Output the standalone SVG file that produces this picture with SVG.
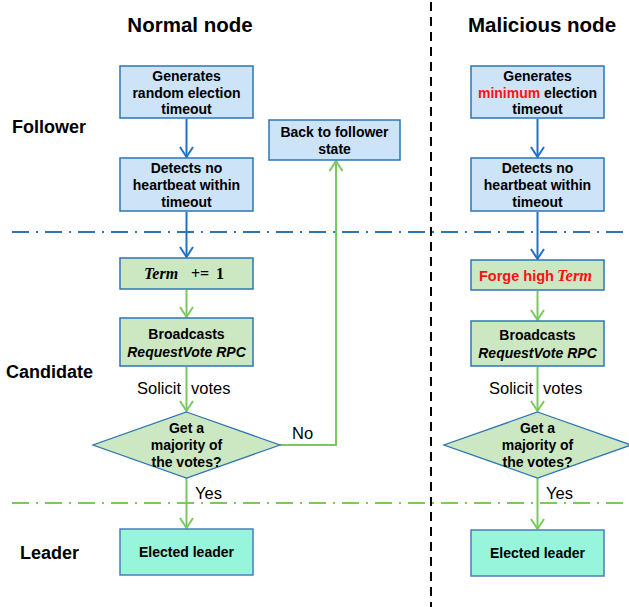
<svg xmlns="http://www.w3.org/2000/svg" width="629" height="607" viewBox="0 0 629 607">
<style>
text{font-family:"Liberation Sans",Arial,sans-serif;fill:#000}
.title{font-size:20.5px;font-weight:bold;text-anchor:middle}
.side{font-size:18px;font-weight:bold}
.bt{font-size:14px;font-weight:bold;text-anchor:middle}
.lbl{font-size:16.5px}
.blue{fill:#CCE3F8;stroke:#2E75B6;stroke-width:1.5}
.green{fill:#CCE8C3;stroke:#2E75B6;stroke-width:1.5}
.leader{fill:#97F5DB;stroke:#4A7EBB;stroke-width:1.5}
.ab{stroke:#1E73C8;stroke-width:2;fill:none}
.ag{stroke:#7BC95E;stroke-width:2;fill:none}
.math{font-family:"Liberation Serif","Times New Roman",serif;font-style:italic;font-weight:bold}
.mr{font-family:"Liberation Serif","Times New Roman",serif;font-weight:bold}
</style>
<defs>
<marker id="mb" markerUnits="userSpaceOnUse" markerWidth="16" markerHeight="16" refX="12" refY="8" orient="auto" viewBox="0 0 16 16">
<path d="M2,1.5 L12,8 L2,14.5" fill="none" stroke="#1E73C8" stroke-width="2"/>
</marker>
<marker id="mg" markerUnits="userSpaceOnUse" markerWidth="16" markerHeight="16" refX="12" refY="8" orient="auto" viewBox="0 0 16 16">
<path d="M2,1.5 L12,8 L2,14.5" fill="none" stroke="#7BC95E" stroke-width="2"/>
</marker>
</defs>
<rect width="629" height="607" fill="#fff"/>

<g id="separators">
<line x1="431" y1="2" x2="431" y2="607" stroke="#000" stroke-width="2" stroke-dasharray="9 6"/>
<line x1="12" y1="232" x2="629" y2="232" stroke="#2E75B6" stroke-width="2" stroke-dasharray="17 7 2 7"/>
<line x1="12" y1="503" x2="629" y2="503" stroke="#7BC95E" stroke-width="2" stroke-dasharray="17 7 2 7"/>
</g>

<g id="labels">
<text class="title" x="190" y="32">Normal node</text>
<text class="title" x="542" y="32">Malicious node</text>
<text class="side" x="12" y="133">Follower</text>
<text class="side" x="6" y="378">Candidate</text>
<text class="side" x="20" y="559">Leader</text>
</g>

<g id="connectors">
<line class="ab" x1="186.5" y1="119" x2="186.5" y2="157" marker-end="url(#mb)"/>
<line class="ab" x1="186.5" y1="212" x2="186.5" y2="257" marker-end="url(#mb)"/>
<line class="ag" x1="186.5" y1="290" x2="186.5" y2="317" marker-end="url(#mg)"/>
<line class="ag" x1="186.5" y1="367" x2="186.5" y2="411" marker-end="url(#mg)"/>
<line class="ag" x1="186.5" y1="478" x2="186.5" y2="528" marker-end="url(#mg)"/>
<polyline class="ag" points="280,445 336,445 336,161" marker-end="url(#mg)"/>
<line class="ab" x1="537.5" y1="119" x2="537.5" y2="157" marker-end="url(#mb)"/>
<line class="ab" x1="537.5" y1="212" x2="537.5" y2="259" marker-end="url(#mb)"/>
<line class="ag" x1="537.5" y1="291" x2="537.5" y2="320" marker-end="url(#mg)"/>
<line class="ag" x1="537.5" y1="367" x2="537.5" y2="411" marker-end="url(#mg)"/>
<line class="ag" x1="537.5" y1="478" x2="537.5" y2="529" marker-end="url(#mg)"/>
<text class="lbl" x="181" y="394" text-anchor="end">Solicit</text>
<text class="lbl" x="191" y="394">votes</text>
<text class="lbl" x="195" y="499">Yes</text>
<text class="lbl" x="292" y="439">No</text>
<text class="lbl" x="533" y="394" text-anchor="end">Solicit</text>
<text class="lbl" x="543" y="394">votes</text>
<text class="lbl" x="546" y="499">Yes</text>
</g>

<g id="n-gen">
<rect class="blue" x="120" y="66" width="133" height="52"/>
<text class="bt" x="186.5" y="81">Generates</text>
<text class="bt" x="186.5" y="98">random  election</text>
<text class="bt" x="186.5" y="114">timeout</text>
</g>
<g id="n-detect">
<rect class="blue" x="120" y="158" width="133" height="53"/>
<text class="bt" x="186.5" y="173">Detects no</text>
<text class="bt" x="186.5" y="190">heartbeat within</text>
<text class="bt" x="186.5" y="207">timeout</text>
</g>
<g id="n-back">
<rect class="blue" x="269" y="120" width="131" height="40"/>
<text class="bt" x="334.5" y="137">Back to follower</text>
<text class="bt" x="334.5" y="154">state</text>
</g>
<g id="n-term">
<rect class="green" x="120" y="258" width="133" height="31"/>
<text class="math" x="144" y="279" font-size="16">Term</text>
<text class="mr" x="191" y="279" font-size="16">+=</text>
<text class="mr" x="216" y="279" font-size="16">1</text>
</g>
<g id="n-broadcast">
<rect class="green" x="120" y="318" width="133" height="48"/>
<text class="bt" x="186.5" y="339">Broadcasts</text>
<text class="bt" x="186.5" y="357" font-style="italic">RequestVote RPC</text>
</g>
<g id="n-majority">
<polygon points="186.5,412 280,445 186.5,478 93,445" fill="#CCE8C3" stroke="#2E75B6" stroke-width="1.3"/>
<text class="bt" x="186.5" y="433">Get a</text>
<text class="bt" x="186.5" y="450">majority of</text>
<text class="bt" x="186.5" y="467">the votes?</text>
</g>
<g id="n-leader">
<rect class="leader" x="120" y="529" width="133" height="46"/>
<text class="bt" x="186.5" y="557">Elected leader</text>
</g>

<g id="m-gen">
<rect class="blue" x="471" y="66" width="133" height="52"/>
<text class="bt" x="537.5" y="81">Generates</text>
<text class="bt" x="537.5" y="98"><tspan fill="#FF1010">minimum</tspan> election</text>
<text class="bt" x="537.5" y="114">timeout</text>
</g>
<g id="m-detect">
<rect class="blue" x="471" y="158" width="133" height="53"/>
<text class="bt" x="537.5" y="173">Detects no</text>
<text class="bt" x="537.5" y="190">heartbeat within</text>
<text class="bt" x="537.5" y="207">timeout</text>
</g>
<g id="m-forge">
<rect class="green" x="471" y="260" width="133" height="30"/>
<text x="479" y="281" font-size="14.5" font-weight="bold" style="fill:#FF1010">Forge high</text>
<text class="math" x="557" y="281" font-size="16.5" style="fill:#FF1010">Term</text>
</g>
<g id="m-broadcast">
<rect class="green" x="471" y="321" width="133" height="45"/>
<text class="bt" x="537.5" y="340">Broadcasts</text>
<text class="bt" x="537.5" y="358" font-style="italic">RequestVote RPC</text>
</g>
<g id="m-majority">
<polygon points="537.5,412 631,445 537.5,478 444,445" fill="#CCE8C3" stroke="#2E75B6" stroke-width="1.3"/>
<text class="bt" x="537.5" y="433">Get a</text>
<text class="bt" x="537.5" y="450">majority of</text>
<text class="bt" x="537.5" y="467">the votes?</text>
</g>
<g id="m-leader">
<rect class="leader" x="471" y="530" width="133" height="46"/>
<text class="bt" x="537.5" y="558">Elected leader</text>
</g>
</svg>
